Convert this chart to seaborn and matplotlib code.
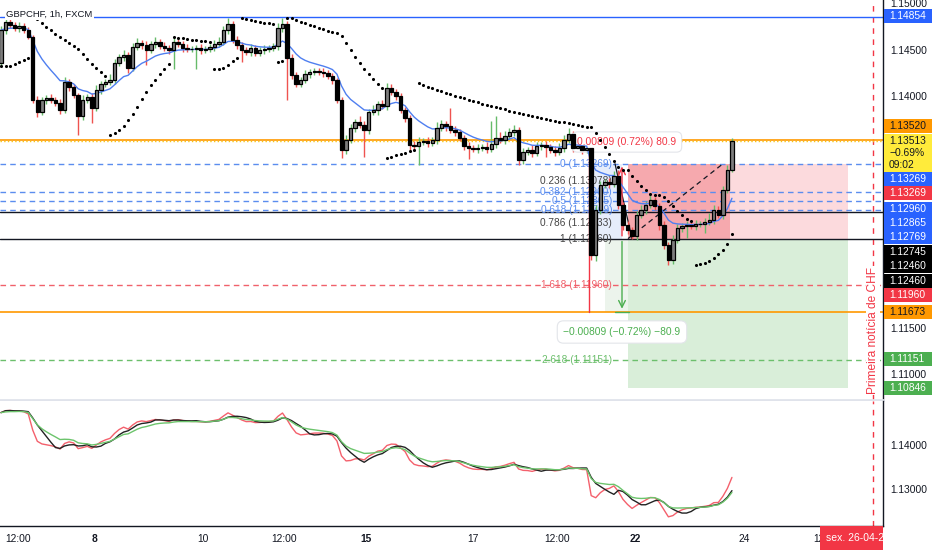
import numpy as np
import pandas as pd
import matplotlib
matplotlib.use("Agg")
import matplotlib.pyplot as plt
import seaborn as sns
from matplotlib.patches import Rectangle
from matplotlib.transforms import Bbox, TransformedBbox

sns.set_theme(style="white")
plt.rcParams['font.family'] = ['Liberation Sans', 'DejaVu Sans']

# ---- data (2-hour bars, x in hours) ----
first_open = 1.14357
closes = [
    1.14713, 1.14799, 1.14767, 1.14735, 1.14756, 1.14713, 1.14637, 1.13957, 1.13827, 1.13957,
    1.13979, 1.13957, 1.13925, 1.13849, 1.14151, 1.14097, 1.14011, 1.13784, 1.13957, 1.13989,
    1.13871, 1.14065, 1.14130, 1.14151, 1.14173, 1.14357, 1.14421, 1.14443, 1.14303, 1.14529,
    1.14573, 1.14551, 1.14497, 1.14562, 1.14583, 1.14540, 1.14519, 1.14497, 1.14583, 1.14562,
    1.14519, 1.14508, 1.14508, 1.14519, 1.14497, 1.14508, 1.14529, 1.14562, 1.14583, 1.14713,
    1.14778, 1.14605, 1.14551, 1.14497, 1.14475, 1.14519, 1.14465, 1.14497, 1.14508, 1.14519,
    1.14540, 1.14735, 1.14778, 1.14411, 1.14227, 1.14130, 1.14173, 1.14238, 1.14259, 1.14270,
    1.14259, 1.14249, 1.14216, 1.14173, 1.13957, 1.13417, 1.13525, 1.13655, 1.13719, 1.13687,
    1.13633, 1.13827, 1.13849, 1.13914, 1.13892, 1.14087, 1.14043, 1.14000, 1.13849, 1.13763,
    1.13471, 1.13461, 1.13504, 1.13515, 1.13493, 1.13525, 1.13655, 1.13698, 1.13676, 1.13633,
    1.13611, 1.13547, 1.13461, 1.13439, 1.13428, 1.13439, 1.13450, 1.13428, 1.13482, 1.13547,
    1.13525, 1.13568, 1.13611, 1.13633, 1.13309, 1.13395, 1.13417, 1.13385, 1.13461, 1.13471,
    1.13450, 1.13417, 1.13395, 1.13439, 1.13525, 1.13590, 1.13439, 1.13461, 1.13417, 1.13439,
    1.12283, 1.12769, 1.13039, 1.13071, 1.13050, 1.13136, 1.12823, 1.12607, 1.12553, 1.12488,
    1.12715, 1.12769, 1.12823, 1.12877, 1.12812, 1.12607, 1.12391, 1.12229, 1.12445, 1.12575,
    1.12596, 1.12607, 1.12596, 1.12618, 1.12618, 1.12639, 1.12661, 1.12769, 1.12715, 1.12985,
    1.13201, 1.13513,
]
wick_up_pips = [
    4, 5, 3, 3, 4, 3, 3, 2, 4, 3,
    3, 4, 3, 4, 5, 3, 3, 2, 5, 3,
    4, 5, 3, 3, 6, 4, 3, 5, 3, 4,
    5, 3, 4, 3, 5, 3, 4, 3, 4, 3,
    3, 4, 3, 3, 4, 3, 3, 4, 5, 4,
    6, 3, 4, 3, 3, 4, 3, 3, 4, 3,
    3, 5, 6, 3, 4, 3, 3, 4, 3, 3,
    3, 4, 3, 3, 2, 3, 5, 4, 3, 6,
    4, 3, 5, 3, 4, 5, 4, 3, 3, 3,
    3, 4, 5, 3, 4, 3, 6, 4, 3, 20,
    4, 3, 3, 4, 3, 4, 3, 5, 25, 24,
    6, 5, 4, 5, 3, 4, 3, 5, 4, 3,
    4, 3, 4, 5, 5, 6, 3, 4, 4, 5,
    8, 5, 4, 3, 4, 5, 6, 3, 4, 3,
    4, 5, 4, 5, 3, 3, 4, 3, 5, 4,
    3, 4, 3, 4, 3, 4, 8, 5, 4, 4,
    5, 3,
]
wick_dn_pips = [
    3, 4, 3, 3, 4, 3, 2, 3, 5, 3,
    4, 3, 3, 4, 3, 4, 3, 20, 4, 3,
    16, 3, 4, 3, 3, 4, 3, 4, 5, 3,
    3, 4, 16, 3, 4, 3, 3, 4, 21, 3,
    4, 3, 3, 22, 4, 3, 3, 4, 3, 3,
    4, 3, 4, 13, 3, 4, 3, 3, 4, 3,
    3, 4, 4, 45, 4, 3, 3, 3, 4, 3,
    3, 4, 3, 4, 3, 9, 4, 3, 4, 3,
    29, 4, 3, 5, 3, 4, 3, 4, 3, 4,
    5, 4, 21, 3, 4, 3, 4, 3, 5, 3,
    4, 3, 4, 12, 3, 4, 3, 4, 3, 4,
    3, 4, 3, 4, 5, 4, 3, 4, 3, 4,
    11, 3, 4, 3, 4, 3, 4, 3, 4, 3,
    5, 6, 4, 3, 4, 3, 4, 5, 4, 3,
    4, 3, 4, 3, 4, 5, 4, 5, 4, 3,
    4, 13, 3, 4, 3, 10, 3, 4, 3, 4,
    3, 2,
]

tick_hours = [7.5, 41, 89, 124.7, 160.8, 207.9, 244.9, 279.3, 327.3, 363.3]
tick_labels = ["12:00", "8", "10", "12:00", "15", "17", "12:00", "22", "24", "12:00"]
bold_labels = ["8", "15", "22"]

fib_top, fib_bottom = 1.13269, 1.12460
fib_ratios = [0, 0.236, 0.382, 0.5, 0.618, 0.786, 1, 1.618, 2.618]
fib_colors = ['#5b8def', '#444444', '#5b8def', '#5b8def', '#5b8def', '#444444', '#444444',
              '#f0616b', '#6cbf6c']
level_blue_top = 1.14854
level_orange = [1.13520, 1.11673]
level_black = 1.12745
last_price = 1.13513
stop_price, entry_price, target_price = 1.13269, 1.12460, 1.10846
measure_up = "0.00809 (0.72%) 80.9"
measure_dn = "\u22120.00809 (\u22120.72%) \u221280.9"

tag_texts = ["1.14854", "1.13520", "1.13269", "1.13269", "1.12960", "1.12865", "1.12769",
             "1.12745", "1.12460", "1.12460", "1.11960", "1.11673", "1.11151", "1.10846"]
tag_colors = ['#2962ff', '#ff9800', '#2962ff', '#f23645', '#2962ff', '#2962ff', '#2962ff',
              '#000000', '#000000', '#000000', '#f23645', '#ff9800', '#4caf50', '#4caf50']
tag_y_px = [16, 126, 179, 193, 209, 223, 237, 252, 266, 281, 295, 312, 359, 388]

W, H = 932, 550
RED = '#f23645'
GREEN = '#4caf50'
FS = 7.4

# ---- derived series ----
closes = np.array(closes)
hours = np.arange(len(closes)) * 2.0
opens = np.r_[first_open, closes[:-1]]
top = np.maximum(opens, closes)
bot = np.minimum(opens, closes)
highs = top + np.array(wick_up_pips) * 1e-4
lows = bot - np.array(wick_dn_pips) * 1e-4
up = closes >= opens


def psar(high, low, af0=0.02, step=0.02, afmax=0.2):
    n = len(high)
    out = np.zeros(n)
    bull = True
    af = af0
    ep = high[0]
    out[0] = low[0]
    for i in range(1, n):
        s = out[i - 1] + af * (ep - out[i - 1])
        if bull:
            s = min(s, low[i - 1], low[max(i - 2, 0)])
            if low[i] < s:
                bull, s, ep, af = False, ep, low[i], af0
            elif high[i] > ep:
                ep, af = high[i], min(af + step, afmax)
        else:
            s = max(s, high[i - 1], high[max(i - 2, 0)])
            if high[i] > s:
                bull, s, ep, af = True, ep, high[i], af0
            elif low[i] < ep:
                ep, af = low[i], min(af + step, afmax)
        out[i] = s
    return out


sar = psar(highs, lows)
cs = pd.Series(closes)
ema_main = cs.ewm(span=12, adjust=False).mean()
lower = pd.DataFrame({
    'h': np.tile(hours, 3),
    'v': np.r_[cs.ewm(span=3, adjust=False).mean(),
               cs.rolling(6, min_periods=1).mean(),
               cs.ewm(span=10, adjust=False).mean()],
    'line': np.repeat(['fast', 'mid', 'slow'], len(hours)),
})


def px_y(y):  # pixel row -> price in the main pane
    return 1.15037 - y / 9260


def px_h(x):  # pixel column -> hours
    return (x - 1) / 2.27


# ---- figure ----
fig = plt.figure(figsize=(W / 100, H / 100), dpi=100)
ax = fig.add_axes([0, 1 - 400 / H, 883 / W, 400 / H])
ax2 = fig.add_axes([0, 1 - 526 / H, 883 / W, 125 / H])

for a in (ax, ax2):
    a.set_xlim(px_h(0), px_h(883))
    a.set_facecolor('white')
    for s in ('left', 'top'):
        a.spines[s].set_visible(False)
    a.spines['right'].set_color('#131722')
    a.spines['right'].set_linewidth(1)
    a.yaxis.tick_right()
    a.tick_params(axis='y', length=0, pad=5, labelsize=FS, labelcolor='#131722')
    a.axvline(px_h(873), color=RED, lw=1, dashes=(4, 4), zorder=1)

ax.set_ylim(px_y(400), px_y(0))
ax.spines['bottom'].set_color('#e0e3eb')
ax.spines['bottom'].set_linewidth(2)
ax.set_xticks([])
ax.set_yticks([1.15, 1.145, 1.14, 1.115, 1.11])
ax.set_yticklabels([f"{v:.5f}" for v in [1.15, 1.145, 1.14, 1.115, 1.11]])

# position tool boxes
ax.add_patch(Rectangle((px_h(628), entry_price), px_h(730) - px_h(628), stop_price - entry_price,
                       fc='#f6a9ae', ec='none', zorder=0.5))
ax.add_patch(Rectangle((px_h(730), entry_price), px_h(848) - px_h(730), stop_price - entry_price,
                       fc='#fcdadd', ec='none', zorder=0.5))
ax.add_patch(Rectangle((px_h(628), target_price), px_h(848) - px_h(628), entry_price - target_price,
                       fc='#d9eed9', ec='none', zorder=0.5))
ax.add_patch(Rectangle((px_h(589), entry_price), px_h(622) - px_h(589), stop_price - entry_price,
                       fc='#e6edfb', ec='none', zorder=0.5))
ax.add_patch(Rectangle((px_h(605), level_orange[1]), px_h(628) - px_h(605), entry_price - level_orange[1],
                       fc='#ecf4ec', ec='none', zorder=0.5))

# horizontal levels
ax.axhline(level_blue_top, color='#2962ff', lw=1, zorder=1)
for lv in level_orange:
    ax.axhline(lv, color='#ff9800', lw=1.2, zorder=1)
ax.axhline(last_price, color='#f5c518', lw=1, ls=':', zorder=1)
ax.axhline(level_black, color='#131722', lw=1, zorder=1)
for r, c in zip(fib_ratios, fib_colors):
    p = fib_top - r * (fib_top - fib_bottom)
    if r == 1:
        ax.axhline(p, color='#131722', lw=1, zorder=1)
    elif r not in (0.236, 0.786):
        ax.axhline(p, color=c, lw=1, dashes=(4, 3), zorder=1)
    ax.text(px_h(612), p, f"{r:g} ({p:.5f})", color=c, fontsize=7.3, ha='right', va='center', zorder=2)

ax.plot([px_h(628), px_h(723)], [entry_price, stop_price], color='#131722', lw=0.9, dashes=(4, 3), zorder=2)
ax.plot([px_h(615), px_h(632)], [fib_top, fib_bottom], color='#131722', lw=0.9, zorder=2)

# price range measures
ax.plot([px_h(589), px_h(589)], [px_y(147), level_orange[1]], color=RED, lw=1, zorder=2)
ax.annotate('', xy=(px_h(622), stop_price), xytext=(px_h(622), entry_price),
            arrowprops=dict(arrowstyle='->', color=RED, lw=1), zorder=2)
ax.annotate('', xy=(px_h(622), level_orange[1]), xytext=(px_h(622), entry_price),
            arrowprops=dict(arrowstyle='->', color=GREEN, lw=1), zorder=2)
ax.plot([px_h(615), px_h(629)], [level_orange[1]] * 2, color=GREEN, lw=1, zorder=2)
ax.text(px_h(627), px_y(142), measure_up, color=RED, fontsize=FS, ha='center', va='center', zorder=3.5,
        bbox=dict(boxstyle='round,pad=0.5', fc='white', ec='#e3e5ea', lw=0.8))
ax.text(px_h(622), px_y(332), measure_dn, color=GREEN, fontsize=FS, ha='center', va='center', zorder=6,
        bbox=dict(boxstyle='round,pad=0.6', fc='white', ec='#e3e5ea', lw=0.8))

# candles
ax.vlines(hours, lows, highs, colors=np.where(up, '#66bb6a', '#ef5350'), lw=1, zorder=3)
ax.bar(hours, np.maximum(top - bot, 3e-5), bottom=bot, width=1.5,
       color=np.where(up, '#7d7d7d', '#000000'), edgecolor='#000000', linewidth=0.9, zorder=4)

sns.lineplot(x=hours, y=ema_main, estimator=None, color='#4f7ff0', lw=1, ax=ax, zorder=3.5)
sns.scatterplot(x=hours, y=sar, color='#000000', s=5, linewidth=0, ax=ax, zorder=5)

ax.text(px_h(873), px_y(330), "Primeira not\u00edcia de CHF", rotation=90, color=RED, fontsize=8.6,
        ha='center', va='center', zorder=6, bbox=dict(fc='white', ec='none', pad=0.6))

# lower pane
ax2.set_ylim(1.1466 - 111 / 4486, 1.1466 + 14 / 4486)
sns.lineplot(data=lower, x='h', y='v', hue='line', estimator=None, legend=False,
             palette={'fast': '#f4606c', 'mid': '#222222', 'slow': '#6cc46c'}, lw=1, ax=ax2)
ax2.set_xlabel('')
ax2.set_ylabel('')
ax.set_xlabel('')
ax.set_ylabel('')
ax2.spines['bottom'].set_color('#131722')
ax2.spines['bottom'].set_linewidth(1)
ax2.set_yticks([1.13, 1.14])
ax2.set_yticklabels(["1.13000", "1.14000"])
ax2.set_xticks(tick_hours)
ax2.set_xticklabels(tick_labels)
ax2.tick_params(axis='x', length=0, pad=6, labelsize=FS, labelcolor='#131722')
xt = ax2.get_xticklabels()
for t in xt:
    if t.get_text() in bold_labels:
        t.set_fontweight('bold')
# the last time label sits under the date tag; only its first glyph shows
xt[-1].set_clip_box(TransformedBbox(Bbox.from_extents(0, 0, 820 / W, 1), fig.transFigure))
xt[-1].set_clip_on(True)

# title
fig.text(6 / W, 1 - 14 / H, "GBPCHF, 1h, FXCM", fontsize=6.8, color='#131722', va='center',
         bbox=dict(fc='white', ec='none', pad=1))

# price axis tags
for txt, col, y in zip(tag_texts, tag_colors, tag_y_px):
    fig.patches.append(Rectangle((884 / W, 1 - (y + 7) / H), 48 / W, 14 / H, fc=col, ec='none',
                                 transform=fig.transFigure, figure=fig))
    fc = '#131722' if col == '#ff9800' else 'white'
    fig.text(889 / W, 1 - y / H, txt, color=fc, fontsize=FS, va='center')

fig.patches.append(Rectangle((884 / W, 1 - 172 / H), 48 / W, 38 / H, fc='#ffeb3b', ec='none',
                             transform=fig.transFigure, figure=fig))
for txt, y in [("1.13513", 141), ("\u22120.69%", 153), ("09:02", 165)]:
    fig.text(889 / W, 1 - y / H, txt, color='#131722', fontsize=FS, va='center')

# date tag at the bottom
fig.patches.append(Rectangle((820 / W, 0), 63 / W, 24 / H, fc=RED, ec='none',
                             transform=fig.transFigure, figure=fig))
dt = fig.text(826 / W, 1 - 538 / H, "sex. 26-04-24", color='white', fontsize=7.5, va='center')
dt.set_clip_box(TransformedBbox(Bbox.from_extents(0, 0, 883 / W, 1), fig.transFigure))
dt.set_clip_on(True)

fig.savefig("out.png", dpi=100, facecolor='white')
